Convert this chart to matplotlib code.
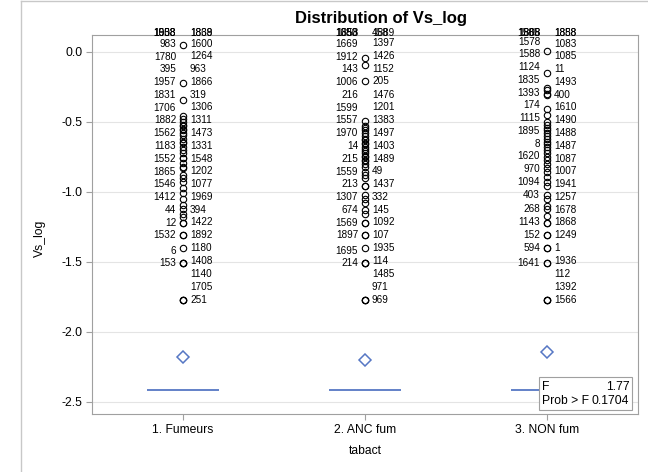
import numpy as np
import matplotlib.pyplot as plt
from matplotlib.patches import Rectangle
from matplotlib.lines import Line2D

plt.rcParams['font.family'] = ['Liberation Sans', 'DejaVu Sans']
plt.rcParams['axes.unicode_minus'] = False

# --- data ----------------------------------------------------------------
categories = ['1. Fumeurs', '2. ANC fum', '3. NON fum']
box_level = [-2.414, -2.414, -2.414]      # Q1 = median = Q3 (flat box)
means = [-2.18, -2.20, -2.14]
f_value = 1.77
p_value = 0.1704

# outliers, one list of ids + values per side of each box (top -> bottom)
g1_left_ids = ['1903', '1538', '1058', '983', '1780', '395', '1957', '1831', '1706', '1882',
               '1562', '1183', '1552', '1865', '1546', '1412', '44', '12', '1532', '6', '153']
g1_left_vals = [-0.46, -0.50, -0.53, -0.56, -0.59, -0.62, -0.65, -0.68, -0.72, -0.76,
                -0.79, -0.82, -0.88, -0.93, -1.01, -1.09, -1.18, -1.22, -1.31, -1.51, -1.51]
g1_right_ids = ['1869', '1838', '1600', '1264', '963', '1866', '319', '1306', '1311', '1473',
                '1331', '1548', '1202', '1077', '1969', '394', '1422', '1892', '1180', '1408',
                '1140', '1705', '251']
g1_right_vals = [-0.48, -0.52, 0.05, -0.55, -0.58, -0.22, -0.34, -0.64, -0.70, -0.76,
                 -0.83, -0.90, -0.97, -1.05, -1.12, -1.16, -1.22, -1.31, -1.40, -1.51,
                 -1.77, -1.77, -1.77]

g2_left_ids = ['1650', '1858', '1383', '1669', '1912', '143', '1006', '216', '1599', '1557',
               '1970', '14', '215', '1559', '213', '1307', '674', '1569', '1897', '1695', '214']
g2_left_vals = [-0.53, -0.56, -0.60, -0.63, -0.09, -0.66, -0.69, -0.72, -0.75, -0.78,
                -0.82, -0.86, -0.90, -0.96, -1.02, -1.08, -1.16, -1.22, -1.31, -1.51, -1.51]
g2_right_ids = ['458', '1889', '1397', '1426', '1152', '205', '1476', '1201', '1383', '1497',
                '1403', '1489', '49', '1437', '332', '145', '1092', '107', '1935', '114',
                '1485', '971', '969']
g2_right_vals = [-0.54, -0.58, -0.62, -0.04, -0.65, -0.21, -0.68, -0.71, -0.49, -0.74,
                 -0.77, -0.80, -0.88, -0.96, -1.05, -1.13, -1.22, -1.31, -1.40, -1.51,
                 -1.77, -1.77, -1.77]

g3_left_ids = ['1808', '1585', '1868', '1578', '1588', '1124', '1835', '1393', '174', '1115',
               '1895', '8', '1620', '970', '1094', '403', '268', '1143', '152', '594', '1641']
g3_left_vals = [-0.50, -0.54, -0.58, 0.01, -0.62, -0.15, -0.26, -0.30, -0.41, -0.66,
                -0.70, -0.75, -0.80, -0.86, -0.93, -1.02, -1.12, -1.22, -1.31, -1.40, -1.51]
g3_right_ids = ['1888', '1858', '1083', '1085', '11', '1493', '400', '1610', '1490', '1488',
                '1487', '1087', '1007', '1941', '1257', '1678', '1868', '1249', '1', '1936',
                '112', '1392', '1566']
g3_right_vals = [-0.52, -0.56, -0.60, -0.64, -0.68, -0.27, -0.31, -0.45, -0.72, -0.77,
                 -0.83, -0.89, -0.96, -1.05, -1.10, -1.17, -1.22, -1.31, -1.40, -1.51,
                 -1.77, -1.77, -1.77]

groups = [
    (g1_left_ids, g1_left_vals, g1_right_ids, g1_right_vals),
    (g2_left_ids, g2_left_vals, g2_right_ids, g2_right_vals),
    (g3_left_ids, g3_left_vals, g3_right_ids, g3_right_vals),
]

BLUE = '#5677c4'
GRAY = '#a0a0a0'
YMIN, YMAX = -2.586, 0.121
STEP = 0.0912      # vertical room taken by one outlier label
TOP = 0.136        # labels that do not fit pile up here


def pack_labels(vals, step, top):
    '''
    Stack labels from the bottom: each label sits on its point unless the one
    below pushes it up. Whatever runs out of room piles up at the top.
    '''
    pos = []
    prev = None
    for v in reversed(vals):
        y = v if prev is None else max(v, prev + step)
        prev = y
        pos.append(min(y, top))
    return pos[::-1]


fig = plt.figure(figsize=(6.48, 4.72), dpi=100)
ax = fig.add_axes([92 / 648, 1 - 414 / 472, 546 / 648, 379 / 472])

# outer graph border (only left/top visible in the crop)
fig.add_artist(Line2D([21 / 648, 21 / 648], [0, 1 - 1 / 472], color='#c8c8c8', lw=1))
fig.add_artist(Line2D([21 / 648, 1], [1 - 1 / 472, 1 - 1 / 472], color='#c8c8c8', lw=1))

x = np.arange(1, len(categories) + 1)

for i, (lids, lvals, rids, rvals) in enumerate(groups):
    xc = x[i]
    # flat box and mean
    ax.hlines(box_level[i], xc - 0.2, xc + 0.2, color=BLUE, lw=1.3, zorder=3)
    ax.plot(xc, means[i], marker='D', ms=6, mfc='none', mec=BLUE, mew=1.1, zorder=3)

    # outlier circles
    allv = lvals + rvals
    ax.plot([xc] * len(allv), allv, 'o', ms=4.6, mfc='none', mec='black', mew=0.8,
            zorder=4, clip_on=False)

    # outlier labels
    for ids, vals, side in ((lids, lvals, -1), (rids, rvals, 1)):
        ys = pack_labels(vals, STEP, TOP)
        for lab, y in zip(ids, ys):
            ax.annotate(lab, (xc, y), xytext=(5 * side, 0), textcoords='offset points',
                        ha='right' if side < 0 else 'left', va='center', fontsize=7.2,
                        annotation_clip=False, zorder=5)

ax.set_xlim(0.5, 3.5)
ax.set_ylim(YMIN, YMAX)
ax.set_xticks(x)
ax.set_xticklabels(categories, fontsize=8.7)
ax.set_yticks([0.0, -0.5, -1.0, -1.5, -2.0, -2.5])
ax.set_yticklabels(['0.0', '-0.5', '-1.0', '-1.5', '-2.0', '-2.5'], fontsize=8.7)
ax.tick_params(length=4, color=GRAY, pad=3)
for sp in ax.spines.values():
    sp.set_color(GRAY)
ax.yaxis.grid(True, color='#e4e4e4', lw=0.8)
ax.set_axisbelow(True)

# F test inset
ax.add_patch(Rectangle((0.8187, 0.0106), 0.1703, 0.087, transform=ax.transAxes,
                       facecolor='white', edgecolor=GRAY, lw=0.8, zorder=6))
ax.text(0.825, 0.072, 'F', transform=ax.transAxes, fontsize=8.7, va='center', zorder=7)
ax.text(0.984, 0.072, '%.2f' % f_value, transform=ax.transAxes, fontsize=8.7,
        va='center', ha='right', zorder=7)
ax.text(0.825, 0.034, 'Prob > F', transform=ax.transAxes, fontsize=8.7, va='center', zorder=7)
ax.text(0.984, 0.034, '%.4f' % p_value, transform=ax.transAxes, fontsize=8.7,
        va='center', ha='right', zorder=7)

fig.text(381 / 648, 1 - 18 / 472, 'Distribution of Vs_log', ha='center', va='center',
         fontsize=12, fontweight='bold')
fig.text(40 / 648, 1 - 238 / 472, 'Vs_log', rotation=90, ha='center', va='center', fontsize=8.7)
fig.text(365 / 648, 1 - 451 / 472, 'tabact', ha='center', va='center', fontsize=8.7)

fig.savefig('out.png', dpi=100)
